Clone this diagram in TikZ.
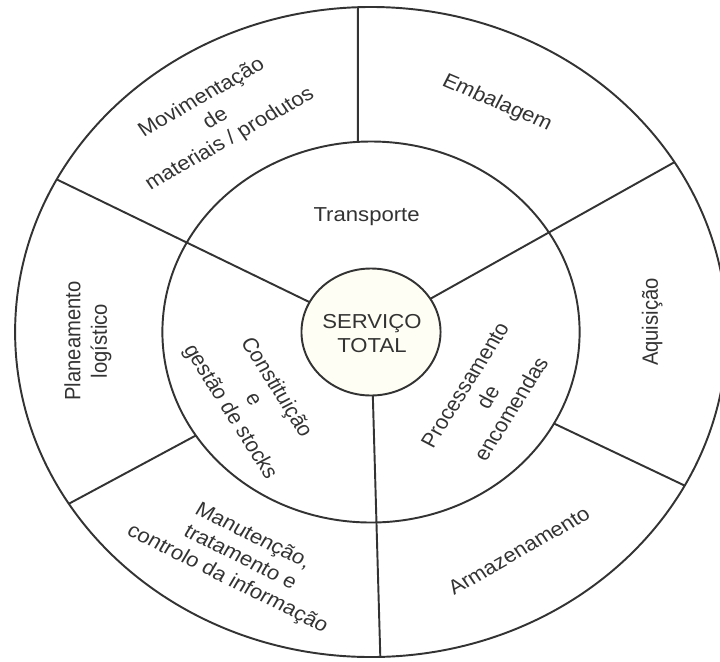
\documentclass[tikz,border=0pt]{standalone}
\usepackage{fontspec}
\setmainfont{Liberation Sans}
\definecolor{LineClr}{rgb}{0.2,0.2,0.2}
\definecolor{CoreClr}{rgb}{1,0.995,0.955}

\begin{document}
\begin{tikzpicture}[x=0.02cm,y=0.02cm,xscale=1.095,
  ring/.style={line width=1.1pt,color=LineClr},
  every node/.style={transform shape,align=center,text=LineClr,
    font=\fontsize{11.5}{13.8}\selectfont}]
\useasboundingbox (-338.8,-329) rectangle (318.7,332);

\coordinate (O) at (0,0);

\draw[ring] (O) circle[radius=325];
\draw[ring] (O) circle[radius=190.5];
\draw[ring,fill=CoreClr] (O) circle[radius=63.5];

% spokes through both rings
\foreach \a in {152,31.5,-88.5}
  \draw[ring] (\a:63.5) -- (\a:325);
% spokes of the outer ring only
\foreach \a/\b in {93.6/92.1,212.9/211.9,-28.7/-28.2}
  \draw[ring] (\a:190.5) -- (\b:325);

\node (core) at (0.9,-1.5) {SERVIÇO\\TOTAL};

\node (transp) at (92:115) {Transporte};
\node[rotate=-60] (stocks) at (212.2:127.5) {Constituição\\e\\gestão de stocks};
\node[rotate=60] (encom) at (-31.3:125) {Processamento\\de\\encomendas};

\node[rotate=32] (movim) at (123.6:256) {Movimentação\\de\\materiais / produtos};
\node[rotate=-25] (embal) at (63.3:256) {Embalagem};
\node[rotate=90] (aquis) at (2.2:257) {Aquisição};
\node[rotate=32] (armaz) at (-58.3:257) {Armazenamento};
\node[rotate=-28.5] (manut) at (242.1:255.7) {Manutenção,\\tratamento e\\controlo da informação};
\node[rotate=90] (plan) at (182:258.6) {Planeamento\\logístico};

\end{tikzpicture}
\end{document}
